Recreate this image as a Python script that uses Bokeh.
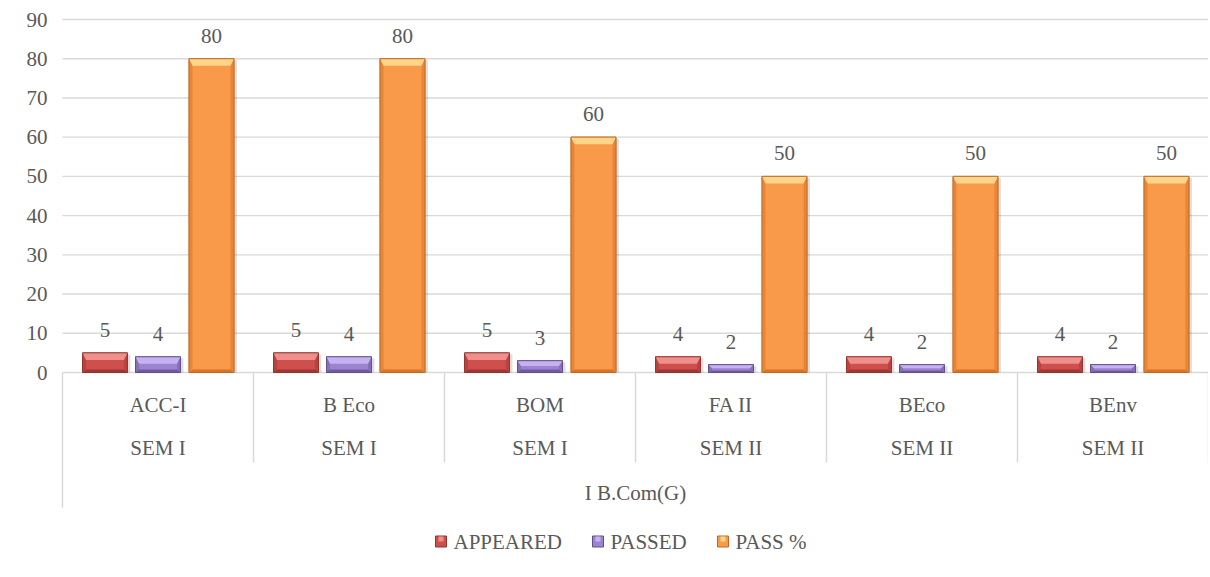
from bokeh.plotting import figure
from bokeh.models import Range1d
from bokeh.embed import file_html
from bokeh.resources import INLINE
from bokeh.core.properties import value

# ---------------- data ----------------
subjects = ["ACC-I", "B Eco", "BOM", "FA II", "BEco", "BEnv"]
semesters = ["SEM I", "SEM I", "SEM I", "SEM II", "SEM II", "SEM II"]
course = "I B.Com(G)"
series_names = ["APPEARED", "PASSED", "PASS %"]
appeared = [5, 5, 5, 4, 4, 4]
passed = [4, 4, 3, 2, 2, 2]
pass_pct = [80, 80, 60, 50, 50, 50]
y_ticks = [0, 10, 20, 30, 40, 50, 60, 70, 80, 90]

# ---------------- styles ----------------
FONT = "Liberation Serif"
FS = "21px"
TXT = "#595959"
GRID = "#D9D9D9"
body_colors = ["#CF4F4C", "#9D84CF", "#F99A4A"]
top_colors = ["#EE8F8C", "#C6B2F0", "#FFD589"]
side_colors = ["#B84440", "#8670BA", "#EA8536"]
bottom_colors = ["#9E3633", "#6E5A9E", "#D47427"]
edge_colors = ["#8E3431", "#5F4E8A", "#BE6A25"]

W, H = 1208, 575
PLOT_L, PLOT_R = 62, 1208      # plot area (screen px)
Y0_PX, Y90_PX = 372, 19         # screen px of 0 and 90
n = len(subjects)
ux = n / (PLOT_R - PLOT_L)                 # x data units per px
uy = (y_ticks[-1] - y_ticks[0]) / (Y0_PX - Y90_PX)   # y data units per px

def xpx(sx):
    return (sx - PLOT_L) * ux

def ypx(sy):
    return (Y0_PX - sy) * uy

p = figure(width=W, height=H, output_backend="svg", toolbar_location=None,
           x_range=Range1d(xpx(0), xpx(W)), y_range=Range1d(ypx(H), ypx(0)),
           x_axis_type=None, y_axis_type=None,
           min_border=0, min_border_left=0, min_border_right=0,
           min_border_top=0, min_border_bottom=0)
p.outline_line_color = None
p.background_fill_color = "white"
p.border_fill_color = "white"
p.grid.visible = False

def txt(xs, ys, texts, align="center", **kw):
    p.text(x=xs, y=ys, text=texts, text_align=align, text_baseline="middle",
           text_font=value(FONT), text_font_size=FS, text_color=TXT, **kw)

# gridlines + baseline
p.segment(x0=[0] * len(y_ticks), y0=y_ticks, x1=[n] * len(y_ticks), y1=y_ticks,
          line_color=GRID, line_width=1.4)
# y tick labels
txt([0] * len(y_ticks), y_ticks, [str(t) for t in y_ticks], align="right", x_offset=-15)

# category separators
sep_x = list(range(0, n + 1))
sep_bottom = [ypx(507)] + [ypx(462)] * n
p.segment(x0=sep_x, y0=[0] * len(sep_x), x1=sep_x, y1=sep_bottom,
          line_color=GRID, line_width=1.5)

# ---------------- bars ----------------
offsets = [-0.2775, 0.0, 0.28]
bar_w = 0.235
series_vals = [appeared, passed, pass_pct]
for k, vals in enumerate(series_vals):
    xs = [i + 0.5 + offsets[k] for i in range(n)]
    # shadow
    p.vbar(x=[x + 3 * ux for x in xs], top=[v - 1.5 * uy for v in vals], bottom=0,
           width=bar_w, fill_color="black", fill_alpha=0.13, line_color=None)
    p.vbar(x=xs, top=vals, bottom=0, width=bar_w, fill_color=body_colors[k],
           line_color=edge_colors[k], line_width=1)
    # bevel facets
    top_xs, top_ys, l_xs, l_ys, r_xs, r_ys, b_xs, b_ys = [], [], [], [], [], [], [], []
    for x, v in zip(xs, vals):
        x0, x1 = x - bar_w / 2, x + bar_w / 2
        hpx = v / uy
        ht = min(7, hpx * 0.45) * uy
        hb = min(3, hpx * 0.25) * uy
        dx = 3.5 * ux
        top_xs.append([x0, x1, x1 - dx, x0 + dx]); top_ys.append([v, v, v - ht, v - ht])
        b_xs.append([x0, x1, x1 - dx, x0 + dx]); b_ys.append([0, 0, hb, hb])
        l_xs.append([x0, x0 + dx, x0 + dx, x0]); l_ys.append([v, v - ht, hb, 0])
        r_xs.append([x1, x1 - dx, x1 - dx, x1]); r_ys.append([v, v - ht, hb, 0])
    p.patches(l_xs, l_ys, fill_color=side_colors[k], line_color=None)
    p.patches(r_xs, r_ys, fill_color=side_colors[k], line_color=None)
    p.patches(b_xs, b_ys, fill_color=bottom_colors[k], line_color=None)
    p.patches(top_xs, top_ys, fill_color=top_colors[k], line_color=None)
    p.vbar(x=xs, top=vals, bottom=0, width=bar_w, fill_color=None,
           line_color=edge_colors[k], line_width=1, line_alpha=0.8)
    # value labels
    txt(xs, vals, [str(v) for v in vals], y_offset=-23)

# ---------------- category labels ----------------
centers = [i + 0.5 for i in range(n)]
txt(centers, [ypx(404)] * n, subjects)
txt(centers, [ypx(447)] * n, semesters)
txt([n / 2], [ypx(492)], [course])

# ---------------- legend ----------------
leg_sq_px = [440.5, 597.5, 722.5]
leg_y = ypx(541)
for k, name in enumerate(series_names):
    p.scatter(x=[xpx(leg_sq_px[k])], y=[leg_y], marker="square", size=11,
              fill_color=body_colors[k], line_color=edge_colors[k], line_width=1)
    p.scatter(x=[xpx(leg_sq_px[k])], y=[leg_y + 2.5 * uy], marker="square", size=5,
              fill_color=top_colors[k], line_color=None)
    txt([xpx(leg_sq_px[k] + 12.5)], [leg_y], [name], align="left")

open("out.html", "w").write(file_html(p, INLINE))
